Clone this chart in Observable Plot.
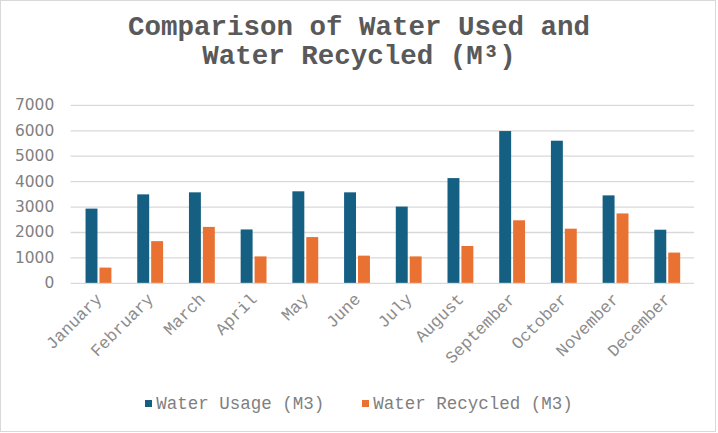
<!DOCTYPE html>
<html>
<head>
<meta charset="utf-8">
<script src="https://cdn.jsdelivr.net/npm/d3@7"></script>
<script src="https://cdn.jsdelivr.net/npm/@observablehq/plot@0.6"></script>
<style>
  html, body { margin: 0; padding: 0; background: #fff; }
  #wrap { position: relative; width: 716px; height: 432px; border: 1px solid #d9d9d9; box-sizing: border-box; overflow: hidden; }
  #title { position: absolute; left: 0; top: 13px; width: 716px; text-align: center;
    font-family: "Liberation Mono", monospace; font-weight: bold; font-size: 27.5px; line-height: 28.5px; color: #595959; }
  #chart { position: absolute; left: 0; top: 78px; }
  #legend { position: absolute; left: 0; top: 393px; width: 716px; text-align: center;
    font-family: "Liberation Mono", monospace; font-size: 17.5px; color: #7f7f7f; white-space: pre; }
  #legend .sw { display: inline-block; width: 7px; height: 7px; margin-right: 4px; vertical-align: 2px; }
  #legend .item { margin: 0 19px; }
</style>
</head>
<body>
<div id="wrap">
  <div id="title">Comparison of Water Used and<br>Water Recycled (M³)</div>
  <div id="chart"></div>
  <div id="legend"></div>
</div>
<script>
const months = ["January","February","March","April","May","June","July","August","September","October","November","December"];
const usage = [2920, 3480, 3560, 2100, 3600, 3560, 3000, 4120, 5970, 5590, 3440, 2090];
const recycled = [600, 1640, 2200, 1040, 1800, 1070, 1040, 1450, 2460, 2130, 2730, 1190];
const seriesNames = ["Water Usage (M3)", "Water Recycled (M3)"];
const seriesColors = ["#156082", "#e97132"];
const yTicks = [0, 1000, 2000, 3000, 4000, 5000, 6000, 7000];

const usageData = months.map((m, i) => ({month: m, value: usage[i]}));
const recycledData = months.map((m, i) => ({month: m, value: recycled[i]}));

const chart = Plot.plot({
  width: 718,
  height: 312,
  marginLeft: 70,
  marginRight: 21,
  marginTop: 26,
  marginBottom: 107,
  style: {fontFamily: "Liberation Mono, monospace", background: "transparent"},
  x: {type: "band", domain: months, paddingInner: 0.5, paddingOuter: 0.25, label: null},
  y: {domain: [0, 7000], label: null},
  marks: [
    Plot.ruleY(yTicks, {stroke: "#d9d9d9", strokeWidth: 1.3}),
    Plot.barY(usageData, {x: "month", y: "value", fill: seriesColors[0], insetRight: 14}),
    Plot.barY(recycledData, {x: "month", y: "value", fill: seriesColors[1], insetLeft: 14}),
    Plot.axisY({ticks: yTicks, tickFormat: "d", tickSize: 0, tickPadding: 17, label: null,
      fontFamily: "DejaVu Sans, sans-serif", fontSize: 15.5, fill: "#7f7f7f"}),
    Plot.axisX({tickRotate: -45, tickSize: 0, tickPadding: 13, label: null,
      fontFamily: "Liberation Mono, monospace", fontSize: 17, fill: "#8c8c8c"})
  ]
});
document.getElementById("chart").appendChild(chart);

const legend = document.getElementById("legend");
legend.innerHTML = seriesNames.map((n, i) =>
  `<span class="item"><span class="sw" style="background:${seriesColors[i]}"></span>${n}</span>`).join("");
</script>
</body>
</html>
